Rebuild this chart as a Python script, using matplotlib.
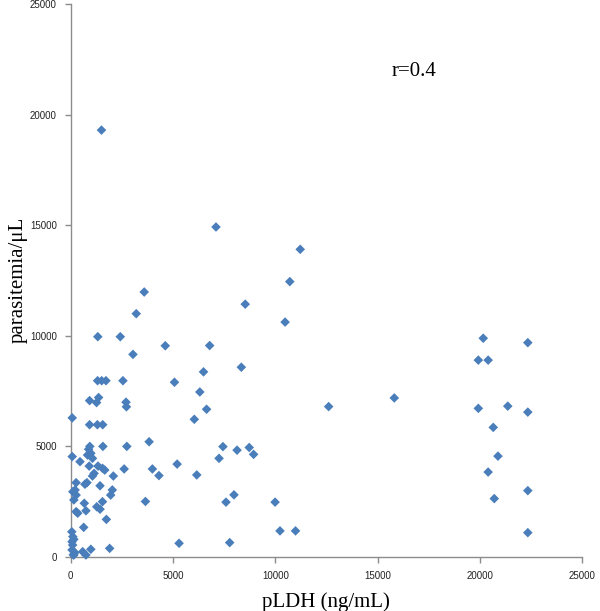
import numpy as np
import matplotlib
matplotlib.use("Agg")
import matplotlib.pyplot as plt

# pLDH (ng/mL) vs parasitemia/uL
pldh = [
    # right-hand group
    20170, 22350, 19930, 20410, 19930, 21370, 22350, 20660, 20890, 20410,
    22350, 20710, 22350, 15820,
    # middle
    12610, 11220, 10710, 10480, 8530, 7100, 6790, 6490, 8340, 6310,
    6640, 6040, 7440, 7250, 8130, 8725, 8940, 5200, 6160, 7590,
    7980, 9990, 10230, 10990, 5295, 7770, 5070, 4620, 3590, 3200,
    3040, 3650, 3830, 3990, 4310,
    # left cluster
    1500, 1320, 2420, 1310, 1510, 1720, 2550, 920, 1360, 1260,
    2700, 2720, 70, 920, 1300, 1560, 930, 1570, 2740, 70,
    450, 820, 980, 870, 1060, 900, 1330, 1550, 1660, 2080,
    1140, 1060, 790, 690, 260, 1430, 210, 100, 2030, 1950,
    260, 150, 1550, 660, 1270, 260, 340, 740, 1430, 1740,
    630, 2610, 50, 100, 60, 90, 60, 150, 580, 740,
    980, 1900, 150, 200, 120,
]
parasitemia = [
    9890, 9690, 8900, 8900, 6720, 6820, 6550, 5860, 4560, 3840,
    3000, 2640, 1100, 7190,
    6800, 13910, 12450, 10620, 11430, 14920, 9560, 8370, 8580, 7460,
    6680, 6225, 4990, 4460, 4830, 4950, 4640, 4200, 3710, 2480,
    2810, 2480, 1180, 1180, 620, 650, 7900, 9550, 11980, 11000,
    9160, 2510, 5210, 3980, 3680,
    19300, 9960, 9960, 7970, 7970, 7970, 7970, 7070, 7210, 6980,
    7000, 6790, 6290, 5980, 5980, 5980, 5000, 5000, 5000, 4540,
    4310, 4610, 4690, 4870, 4460, 4110, 4110, 4010, 3930, 3660,
    3780, 3660, 3360, 3290, 3360, 3220, 3030, 2950, 3030, 2800,
    2800, 2580, 2500, 2430, 2270, 2050, 1980, 2090, 2160, 1700,
    1340, 3980, 1140, 920, 690, 540, 320, 90, 240, 90,
    350, 390, 800, 200, 100,
]

r_label = "r=0.4"
ticks = [0, 5000, 10000, 15000, 20000, 25000]

fig = plt.figure(figsize=(6, 6.11), dpi=100)
ax = fig.add_axes([0.118, 0.0884, 0.852, 0.905])

ax.scatter(pldh, parasitemia, marker="D", s=24, color="#4A7EBB",
           edgecolors="none", zorder=3, clip_on=False)

ax.set_xlim(0, 25000)
ax.set_ylim(0, 25000)
ax.set_xticks(ticks)
ax.set_yticks(ticks)
ax.set_xticklabels([str(t) for t in ticks], fontfamily="Liberation Sans", fontsize=7)
ax.set_yticklabels([str(t) for t in ticks], fontfamily="Liberation Sans", fontsize=7)

for side in ["top", "right"]:
    ax.spines[side].set_visible(False)
for side in ["left", "bottom"]:
    ax.spines[side].set_color("#8C8C8C")
    ax.spines[side].set_linewidth(1.0)
ax.tick_params(axis="both", colors="#8C8C8C", labelcolor="#222222",
               length=4, width=1.0, direction="out")
ax.tick_params(axis="x", pad=6)
ax.tick_params(axis="y", pad=6)

ax.set_xlabel("pLDH (ng/mL)", fontfamily="Liberation Serif", fontsize=15, labelpad=8)
fig.text(18 / 600, 1 - 280 / 611, "parasitemia/\u03bcL", fontfamily="Liberation Serif",
         fontsize=15, rotation=90, ha="center", va="center")

ax.text(15700, 21950, r_label, fontfamily="Liberation Serif", fontsize=15,
        ha="left", va="center")

fig.savefig("out.png", dpi=100)
